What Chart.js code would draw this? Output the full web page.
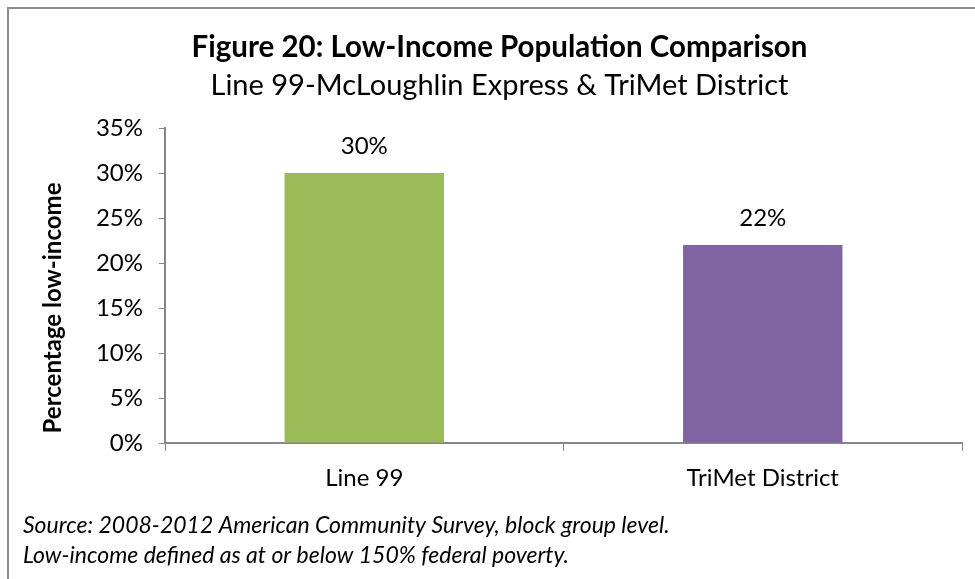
<!DOCTYPE html>
<html>
<head>
<meta charset="utf-8">
<script src="https://cdn.jsdelivr.net/npm/chart.js@4"></script>
<style>
  body { margin: 0; background: #fff; }
  #wrap { position: relative; width: 975px; height: 579px; }
</style>
</head>
<body>
<div id="wrap"><canvas id="chart" width="975" height="579"></canvas></div>
<script>
const categories = ['Line 99', 'TriMet District'];
const lowIncome = [30, 22];
const barColors = ['#9BBB59', '#8064A2'];
const yTicks = [0, 5, 10, 15, 20, 25, 30, 35];

const FONT = 'Lato, "Open Sans", sans-serif';
const axisGray = '#868686';

// frame, y-axis title, value labels and the source note
const extras = {
  id: 'extras',
  afterDatasetsDraw(chart) {
    const ctx = chart.ctx;
    ctx.save();
    ctx.fillStyle = '#000';
    ctx.font = '24px ' + FONT;
    ctx.textAlign = 'center';
    ctx.textBaseline = 'middle';
    chart.getDatasetMeta(0).data.forEach((bar, i) => {
      ctx.fillText(lowIncome[i] + '%', bar.x, bar.y - 27);
    });
    ctx.restore();
  },
  afterDraw(chart) {
    const ctx = chart.ctx;
    ctx.save();
    ctx.strokeStyle = '#8c8c8c';
    ctx.lineWidth = 2;
    ctx.beginPath();
    ctx.moveTo(975, 8);
    ctx.lineTo(8, 8);
    ctx.lineTo(8, 579);
    ctx.stroke();

    ctx.fillStyle = '#000';
    ctx.translate(53, 308);
    ctx.rotate(-Math.PI / 2);
    ctx.font = 'bold 24px ' + FONT;
    ctx.textAlign = 'center';
    ctx.textBaseline = 'middle';
    ctx.fillText('Percentage low-income', 0, 0);
    ctx.setTransform(1, 0, 0, 1, 0, 0);

    ctx.font = 'italic 23px ' + FONT;
    ctx.textAlign = 'left';
    ctx.fillText('Source: 2008-2012 American Community Survey, block group level.', 23, 526);
    ctx.fillText('Low-income defined as at or below 150% federal poverty.', 23, 556);
    ctx.restore();
  }
};

new Chart(document.getElementById('chart'), {
  type: 'bar',
  data: {
    labels: categories,
    datasets: [{
      data: lowIncome,
      backgroundColor: barColors,
      categoryPercentage: 1,
      barPercentage: 0.4
    }]
  },
  options: {
    responsive: false,
    animation: false,
    layout: { padding: { left: 37, right: 13, top: 0, bottom: 86 } },
    plugins: {
      legend: { display: false },
      tooltip: { enabled: false },
      title: {
        display: true,
        text: 'Figure 20: Low-Income Population Comparison',
        color: '#000',
        font: { family: FONT, size: 29.5, weight: 'bold', lineHeight: 1.2 },
        padding: { top: 29.3, bottom: 0 }
      },
      subtitle: {
        display: true,
        text: 'Line 99-McLoughlin Express & TriMet District',
        color: '#000',
        font: { family: FONT, size: 29, lineHeight: 1.2 },
        padding: { top: 4, bottom: 24.5 }
      }
    },
    scales: {
      x: {
        afterFit: s => { s.height = 50; },
        grid: { drawOnChartArea: false, tickLength: 8, color: axisGray, offset: true },
        border: { color: axisGray, width: 2 },
        ticks: { color: '#000', padding: 12.6, font: { family: FONT, size: 24 } }
      },
      y: {
        min: 0,
        max: 35,
        afterFit: s => { s.width = 128; },
        afterBuildTicks: s => { s.ticks = yTicks.map(v => ({ value: v })); },
        grid: { drawOnChartArea: false, tickLength: 6, color: axisGray },
        border: { color: axisGray, width: 2 },
        ticks: { color: '#000', padding: 16, font: { family: FONT, size: 24 }, callback: v => v + '%' }
      }
    }
  },
  plugins: [extras]
});
</script>
</body>
</html>
